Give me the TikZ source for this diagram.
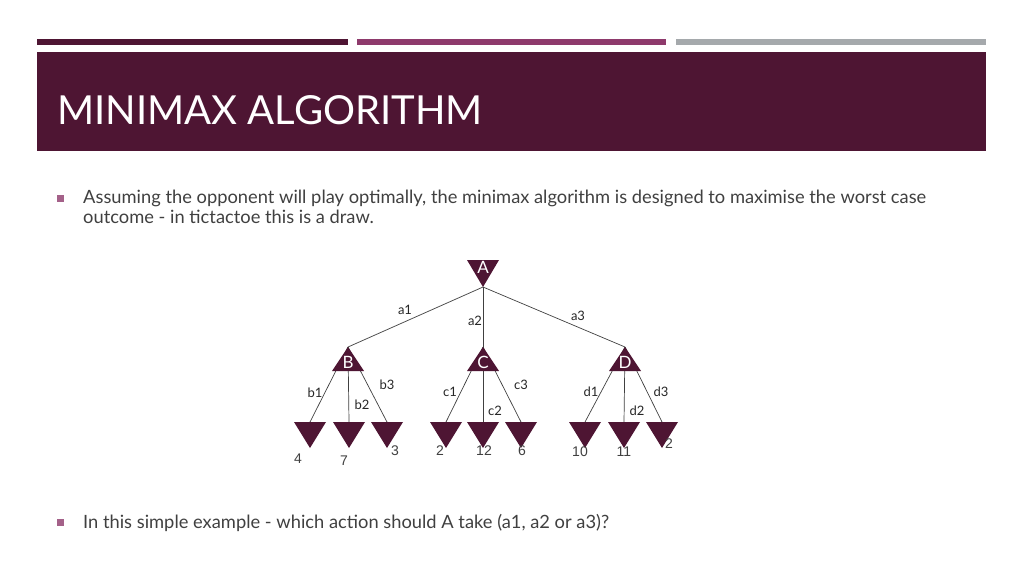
\documentclass[tikz,border=0pt]{standalone}
\usepackage{fontspec}
\setmainfont{Lato}
\newfontfamily\arialf{Liberation Sans}
\definecolor{wine}{HTML}{4E1533}
\definecolor{pinkbar}{HTML}{8E3A6C}
\definecolor{graybar}{HTML}{A5A9AC}
\definecolor{txt}{HTML}{404040}
\begin{document}
\begin{tikzpicture}[x=1pt,y=-1pt,
  edge/.style={draw=black!75,line width=0.7pt},
  elab/.style={font=\fontsize{13}{13}\selectfont,text=black!85,inner sep=0pt},
  leaflab/.style={font=\arialf\fontsize{14}{14}\selectfont,text=txt,inner sep=0pt},
  nlab/.style={font=\fontsize{17}{17}\selectfont,text=white,inner sep=0pt},
  body/.style={font=\fontsize{18.3}{19}\selectfont,text=txt,anchor=west,inner sep=0pt,align=left}]
\useasboundingbox (0,0) rectangle (1024,576);
\fill[white] (0,0) rectangle (1024,576);
% header bars
\fill[wine] (37,39) rectangle (348,45);
\fill[pinkbar] (357,39) rectangle (666,45);
\fill[graybar] (676,39) rectangle (986,45);
\fill[wine] (37,52) rectangle (986,151);
\node[anchor=west,text=white,font=\fontsize{40}{40}\selectfont,inner sep=0pt] (title) at (57,110) {MINIMAX ALGORITHM};
% bullets
\fill[pinkbar!80] (57,195) rectangle (64,202);
\node[body] (t1) at (83,198) {Assuming the opponent will play optimally, the minimax algorithm is designed to maximise the worst case};
\node[body] (t1b) at (83,217) {outcome - in tictactoe this is a draw.};
\fill[pinkbar!80] (57,519) rectangle (64,526);
\node[body] (t2) at (83,523) {In this simple example - which action should A take (a1, a2 or a3)?};
% coordinates
\coordinate (A) at (483,287);
\coordinate (B) at (348,347);
\coordinate (C) at (483,347);
\coordinate (D) at (625,347);
\foreach \n/\x in {l1/310,l2/349,l3/387,l4/446,l5/483,l6/521,l7/585,l8/624,l9/662}
  \coordinate (\n) at (\x,422);
% edges
\draw[edge] (A) -- (B); \draw[edge] (A) -- (C); \draw[edge] (A) -- (D);
\draw[edge] (B) -- (l1); \draw[edge] (B) -- (l2); \draw[edge] (B) -- (l3);
\draw[edge] (C) -- (l4); \draw[edge] (C) -- (l5); \draw[edge] (C) -- (l6);
\draw[edge] (D) -- (l7); \draw[edge] (D) -- (l8); \draw[edge] (D) -- (l9);
% triangles
\fill[wine] (467,260) -- (499,260) -- (A) -- cycle;
\foreach \c in {B,C,D}
  \fill[wine] (\c) -- ++(-16,24) -- ++(32,0) -- cycle;
\foreach \n in {l1,l2,l3,l4,l5,l6,l7,l8,l9}
  \fill[wine] (\n) ++(-16,0) -- ++(32,0) -- ++(-16,26) -- cycle;
\node[nlab] (nA) at (483,267) {A};
\node[nlab] (nB) at (348,362) {B};
\node[nlab] (nC) at (483,362) {C};
\node[nlab] (nD) at (625,362) {D};
% edge labels
\node[elab] (ea1) at (405,310) {a1};
\node[elab] (ea2) at (475,321) {a2};
\node[elab] (ea3) at (578,316) {a3};
\node[elab] (eb1) at (315,393) {b1};
\node[elab] (eb2) at (362,405) {b2};
\node[elab] (eb3) at (387,385) {b3};
\node[elab] (ec1) at (450,392) {c1};
\node[elab] (ec2) at (495,411) {c2};
\node[elab] (ec3) at (521,385) {c3};
\node[elab] (ed1) at (591,392) {d1};
\node[elab] (ed2) at (637,411) {d2};
\node[elab] (ed3) at (661,392) {d3};
% leaf values
\node[leaflab] (v1) at (298,459) {4};
\node[leaflab] (v2) at (344,461) {7};
\node[leaflab] (v3) at (395,451) {3};
\node[leaflab] (v4) at (440,451) {2};
\node[leaflab] (v5) at (484,451) {12};
\node[leaflab] (v6) at (522,451) {6};
\node[leaflab] (v7) at (580,452) {10};
\node[leaflab] (v8) at (624,452) {11};
\node[leaflab] (v9) at (669,444) {2};
\end{tikzpicture}
\end{document}
